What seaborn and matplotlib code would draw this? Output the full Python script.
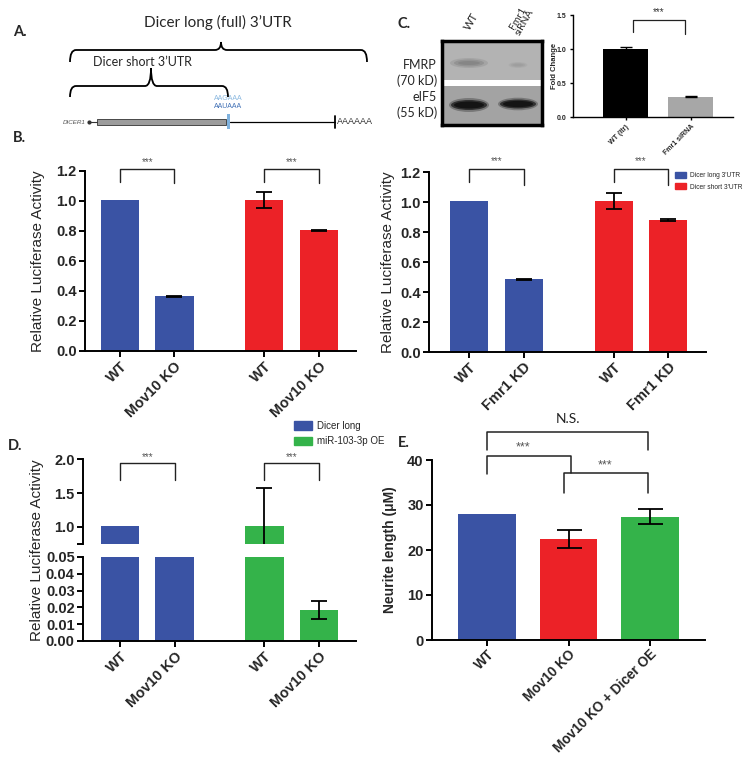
import pandas as pd
import matplotlib
matplotlib.use('Agg')
import matplotlib.pyplot as plt
import seaborn as sns
from matplotlib.patches import Patch, Rectangle, Ellipse, PathPatch
from matplotlib.path import Path

# ---- data ----
b_mov10_labels = ['WT', 'Mov10 KO', 'WT', 'Mov10 KO']
b_mov10_vals = [1.005, 0.365, 1.005, 0.805]
b_mov10_err = [0.0, 0.003, 0.052, 0.003]

b_fmr1_labels = ['WT', 'Fmr1 KD', 'WT', 'Fmr1 KD']
b_fmr1_vals = [1.005, 0.485, 1.005, 0.88]
b_fmr1_err = [0.0, 0.005, 0.053, 0.005]

b_legend = ["Dicer long 3'UTR", "Dicer short 3'UTR"]

c_labels = ['WT (ltr)', 'Fmr1 siRNA']
c_vals = [1.0, 0.30]
c_err = [0.03, 0.005]

d_labels = ['WT', 'Mov10 KO', 'WT', 'Mov10 KO']
d_vals = [1.01, 0.36, 1.02, 0.0185]
d_err = [0.0, 0.0, 0.55, 0.0055]
d_legend = ['Dicer long', 'miR-103-3p OE']

e_labels = ['WT', 'Mov10 KO', 'Mov10 KO + Dicer OE']
e_vals = [28.1, 22.4, 27.4]
e_err = [0.0, 2.05, 1.7]

BLUE = '#3a53a4'
RED = '#ec2227'
GREEN = '#34b34a'
BLACK = '#000000'
GRAY = '#a7a7a7'

W, H = 747, 759

sns.set_theme(style='ticks')
plt.rcParams['font.family'] = ['Liberation Sans', 'DejaVu Sans']

fig = plt.figure(figsize=(W / 100, H / 100), dpi=100)


def px_axes(x0, y0, x1, y1):
    return fig.add_axes([x0 / W, 1 - y1 / H, (x1 - x0) / W, (y1 - y0) / H])


def style(ax, lw=1.4, tl=4, fs=10.5):
    sns.despine(ax=ax)
    for s in ['left', 'bottom']:
        ax.spines[s].set_linewidth(lw)
        ax.spines[s].set_color('black')
    ax.tick_params(width=lw, length=tl, color='black', labelsize=fs, pad=2)
    ax.set_facecolor('none')
    ax.grid(False)


def bars(ax, pos, vals, errs, colors, width=0.7, elw=1.3, cap=6):
    df = pd.DataFrame({'pos': pos, 'val': vals, 'col': colors})
    sns.barplot(data=df, x='pos', y='val', hue='col', palette={c: c for c in colors},
                native_scale=True, width=width, errorbar=None, legend=False,
                saturation=1, linewidth=0, ax=ax)
    keep = [i for i, e in enumerate(errs) if e > 0]
    ax.errorbar([pos[i] for i in keep], [vals[i] for i in keep], yerr=[errs[i] for i in keep],
                fmt='none', ecolor='black', elinewidth=elw, capsize=cap, capthick=elw)


def bracket(ax, x0, x1, ytop, yl0, yl1, text, ty, fs=7, lw=1.0, tcolor='#555555'):
    ax.plot([x0, x0, x1, x1], [yl0, ytop, ytop, yl1], color='#222222', lw=lw, clip_on=False)
    ax.text((x0 + x1) / 2, ty, text, ha='center', va='center', fontsize=fs,
            color=tcolor, clip_on=False)


def xlabels(ax, pos, labels, fs=10.5):
    ax.set_xticks(pos)
    ax.set_xticklabels(labels, rotation=45, ha='right', rotation_mode='anchor',
                       fontweight='bold', fontsize=fs)


def ylabels(ax, ticks, labels, fs=10.5):
    ax.set_yticks(ticks)
    ax.set_yticklabels(labels, fontweight='bold', fontsize=fs)


# ---- overlay for the diagram, blot labels and panel letters ----
ov = fig.add_axes([0, 0, 1, 1])
ov.set_xlim(0, W)
ov.set_ylim(H, 0)
ov.axis('off')


def brace(x0, x1, xm, y, ytip, yend, r=6):
    verts = [(x0, yend), (x0, y), (x0 + r, y), (xm - r, y), (xm, y), (xm, ytip),
             (xm, y), (xm + r, y), (x1 - r, y), (x1, y), (x1, yend)]
    codes = [Path.MOVETO, Path.CURVE3, Path.CURVE3, Path.LINETO, Path.CURVE3, Path.CURVE3,
             Path.CURVE3, Path.CURVE3, Path.LINETO, Path.CURVE3, Path.CURVE3]
    ov.add_patch(PathPatch(Path(verts, codes), fill=False, lw=1.3, color='black'))


calibri = ['Lato', 'DejaVu Sans']
brace(70, 367, 221, 50, 42, 62)
brace(70, 228, 151, 86, 68, 97)
ov.text(218, 22, "Dicer long (full) 3\u2019UTR", ha='center', va='center', fontsize=11, family=calibri)
ov.text(142, 62, "Dicer short 3\u2019UTR", ha='center', va='center', fontsize=9, family=calibri)
ov.text(86, 122, 'DICER1', ha='right', va='center', fontsize=4.5, style='italic', color='#555555')
ov.plot([88, 97], [122, 122], color='#333333', lw=0.8)
ov.plot([89], [122], marker='o', ms=2, color='#333333')
ov.add_patch(Rectangle((97, 119), 129, 6, facecolor='#9c9c9c', edgecolor='#333333', lw=0.6))
ov.plot([230, 335], [122, 122], color='black', lw=0.9)
ov.add_patch(Rectangle((226.5, 114), 3, 15, facecolor='#7fb2de', edgecolor='none'))
ov.plot([335, 335], [116, 128], color='black', lw=1.3)
ov.text(337, 122, 'AAAAAA', ha='left', va='center', fontsize=6.5, color='#333333')
ov.text(228, 99, 'AAGAAA', ha='center', va='center', fontsize=5, color='#8ab8e0')
ov.text(228, 107, 'AAUAAA', ha='center', va='center', fontsize=5, color='#3f6fb5')

for t, x, y in [('A.', 13, 32), ('B.', 13, 138), ('C.', 397, 24), ('D.', 8, 446), ('E.', 398, 443)]:
    ov.text(x, y, t, ha='left', va='center', fontsize=10.5, fontweight='bold', family=calibri)

for t, y in [('FMRP', 65), ('(70 kD)', 81), ('eIF5', 97), ('(55 kD)', 113)]:
    ov.text(437, y, t, ha='right', va='center', fontsize=9, family=calibri)
ov.text(471, 21, 'WT', ha='center', va='center', rotation=60, fontsize=8, family=calibri)
ov.text(521, 20, 'Fmr1\nsiRNA', ha='center', va='center', rotation=60, fontsize=7.5,
        family=calibri, linespacing=0.85)

# ---- panel C: western blot ----
blot = px_axes(442, 41, 542, 125)
blot.set_xlim(0, 100)
blot.set_ylim(84, 0)
blot.set_xticks([])
blot.set_yticks([])
blot.add_patch(Rectangle((0, 0), 100, 39, facecolor='#b3b3b3', edgecolor='none'))
blot.add_patch(Rectangle((0, 39), 100, 6, facecolor='white', edgecolor='none'))
blot.add_patch(Rectangle((0, 45), 100, 39, facecolor='#a3a3a3', edgecolor='none'))
for w, h, a in [(38, 10, 0.25), (30, 7, 0.4), (22, 4, 0.5)]:
    blot.add_patch(Ellipse((27, 22), w, h, facecolor='#7a7a7a', edgecolor='none', alpha=a))
    blot.add_patch(Ellipse((76, 24), w * 0.5, h * 0.6, facecolor='#9a9a9a', edgecolor='none', alpha=a))
for w, h, a in [(40, 14, 0.3), (36, 10, 0.7), (30, 7, 1.0)]:
    blot.add_patch(Ellipse((27, 64), w, h, facecolor='#141414', edgecolor='none', alpha=a))
    blot.add_patch(Ellipse((76, 63), w, h * 0.9, facecolor='#141414', edgecolor='none', alpha=a))
for s in blot.spines.values():
    s.set_linewidth(2.5)
    s.set_color('black')

# ---- panel C: fold change ----
axc = px_axes(573, 15, 733, 117)
bars(axc, [0, 1], c_vals, c_err, [BLACK, GRAY], width=0.69, elw=1.0, cap=4)
style(axc, lw=1.0, tl=2.5, fs=5)
axc.set_xlim(-0.81, 1.65)
axc.set_ylim(0, 1.5)
ylabels(axc, [0, 0.5, 1.0, 1.5], ['0.0', '0.5', '1.0', '1.5'], fs=5)
xlabels(axc, [0, 1], c_labels, fs=5)
axc.set_xlabel('')
axc.set_ylabel('Fold Change', fontsize=5.5, fontweight='bold')
axc.yaxis.set_label_coords(-0.094, 0.5)
bracket(axc, 0.11, 0.91, 1.43, 1.25, 1.22, '***', 1.54, fs=7, lw=0.9, tcolor='#333333')

# ---- panel B: Mov10 ----
b_pos = [0, 1, 2.65, 3.65]
b_cols = [BLUE, BLUE, RED, RED]

axb1 = px_axes(85, 171, 356, 351)
bars(axb1, b_pos, b_mov10_vals, b_mov10_err, b_cols)
style(axb1)
axb1.set_xlim(-0.64, 4.33)
axb1.set_ylim(0, 1.2)
ylabels(axb1, [0, 0.2, 0.4, 0.6, 0.8, 1.0, 1.2], ['0.0', '0.2', '0.4', '0.6', '0.8', '1.0', '1.2'])
xlabels(axb1, b_pos, b_mov10_labels)
axb1.set_xlabel('')
axb1.set_ylabel('Relative Luciferase Activity', fontsize=11)
axb1.yaxis.set_label_coords(-0.148, 0.5)
bracket(axb1, 0, 1, 1.213, 1.128, 1.118, '***', 1.262)
bracket(axb1, 2.65, 3.65, 1.213, 1.128, 1.118, '***', 1.262)

# ---- panel B: Fmr1 ----
axb2 = px_axes(429, 172, 706, 352)
bars(axb2, b_pos, b_fmr1_vals, b_fmr1_err, b_cols)
style(axb2)
axb2.set_xlim(-0.74, 4.34)
axb2.set_ylim(0, 1.2)
ylabels(axb2, [0, 0.2, 0.4, 0.6, 0.8, 1.0, 1.2], ['0.0', '0.2', '0.4', '0.6', '0.8', '1.0', '1.2'])
xlabels(axb2, b_pos, b_fmr1_labels)
axb2.set_xlabel('')
axb2.set_ylabel('Relative Luciferase Activity', fontsize=11)
axb2.yaxis.set_label_coords(-0.123, 0.5)
bracket(axb2, 0, 1, 1.218, 1.131, 1.113, '***', 1.27)
bracket(axb2, 2.65, 3.65, 1.218, 1.131, 1.113, '***', 1.27)
axb2.legend(handles=[Patch(color=BLUE), Patch(color=RED)], labels=b_legend,
            loc='upper left', bbox_to_anchor=(675 / W, 1 - 172 / H),
            bbox_transform=fig.transFigure, frameon=False, fontsize=4.8,
            handlelength=1.7, handleheight=1.0, handletextpad=0.6, labelspacing=0.6,
            borderpad=0, borderaxespad=0)

# ---- panel D: broken axis ----
d_cols = [BLUE, BLUE, GREEN, GREEN]
axdt = px_axes(83, 459, 356, 544)
bars(axdt, b_pos, d_vals, d_err, d_cols)
style(axdt)
sns.despine(ax=axdt, bottom=True)
axdt.set_xlim(-0.68, 4.33)
axdt.set_ylim(0.75, 2.0)
ylabels(axdt, [0.75, 1.0, 1.5, 2.0], ['', '1.0', '1.5', '2.0'])
axdt.tick_params(axis='x', bottom=False, labelbottom=False)
axdt.set_xlabel('')
axdt.set_ylabel('')
bracket(axdt, 0, 1, 1.94, 1.69, 1.69, '***', 2.03)
bracket(axdt, 2.65, 3.65, 1.94, 1.69, 1.69, '***', 2.03)

axdb = px_axes(83, 557, 356, 641)
bars(axdb, b_pos, d_vals, d_err, d_cols)
style(axdb)
axdb.set_xlim(-0.68, 4.33)
axdb.set_ylim(0, 0.05)
ylabels(axdb, [0, 0.01, 0.02, 0.03, 0.04, 0.05], ['0.00', '0.01', '0.02', '0.03', '0.04', '0.05'])
xlabels(axdb, b_pos, d_labels)
axdb.set_xlabel('')
axdb.set_ylabel('')
ov.text(37, 550, 'Relative Luciferase Activity', rotation=90, ha='center', va='center', fontsize=11)
axdb.legend(handles=[Patch(color=BLUE), Patch(color=GREEN)], labels=d_legend,
            loc='upper left', bbox_to_anchor=(294 / W, 1 - 421 / H),
            bbox_transform=fig.transFigure, frameon=False, fontsize=7,
            handlelength=1.8, handleheight=1.0, handletextpad=0.6, labelspacing=0.55,
            borderpad=0, borderaxespad=0)

# ---- panel E ----
axe = px_axes(432, 460, 705, 640)
bars(axe, [0, 1, 2], e_vals, e_err, [BLUE, RED, GREEN], width=0.71, cap=9)
style(axe)
axe.set_xlim(-0.68, 2.68)
axe.set_ylim(0, 40)
ylabels(axe, [0, 10, 20, 30, 40], ['0', '10', '20', '30', '40'])
xlabels(axe, [0, 1, 2], e_labels, fs=9.8)
axe.tick_params(axis='x', pad=1)
axe.set_xlabel('')
axe.set_ylabel('Neurite length (\u03bcM)', fontsize=10, fontweight='bold')
axe.yaxis.set_label_coords(-0.128, 0.5)
bracket(axe, 0, 1.98, 46.2, 42.2, 42.2, 'N.S.', 49.1, fs=10, lw=1.1, tcolor='#222222')
axe.texts[-1].set_family(calibri)
bracket(axe, 0, 1.03, 40.9, 36.9, 37.1, '', 42.9, lw=1.1)
axe.text(0.44, 42.9, '***', ha='center', va='center', fontsize=9, color='#555555')
bracket(axe, 0.945, 1.98, 37.1, 32.7, 32.7, '', 38.9, lw=1.1)
axe.text(1.45, 38.9, '***', ha='center', va='center', fontsize=9, color='#555555')

fig.savefig('out.png', dpi=100)
